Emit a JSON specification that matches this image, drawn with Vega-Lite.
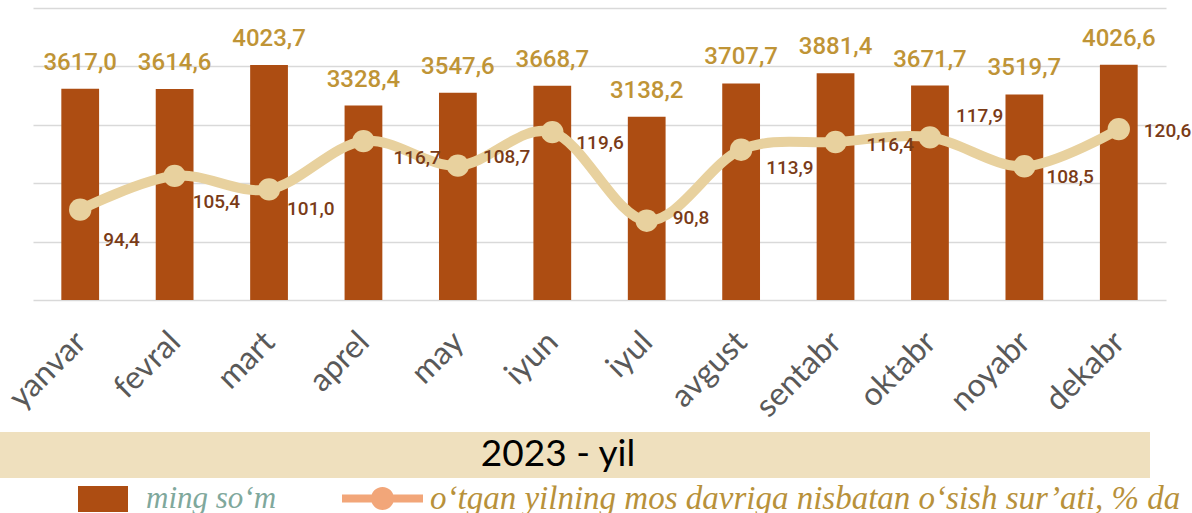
{
  "$schema": "https://vega.github.io/schema/vega-lite/v6.json",
  "padding": {"left": 0, "top": 8, "right": 0, "bottom": 0},
  "background": "white",
  "config": {
    "view": {"stroke": null},
    "locale": {"number": {"decimal": ",", "thousands": " ", "grouping": [3], "currency": ["", ""]}}
  },
  "datasets": {
    "monthly": [
      {"month": "yanvar", "value": 3617.0, "rate": 94.4},
      {"month": "fevral", "value": 3614.6, "rate": 105.4},
      {"month": "mart", "value": 4023.7, "rate": 101.0},
      {"month": "aprel", "value": 3328.4, "rate": 116.7},
      {"month": "may", "value": 3547.6, "rate": 108.7},
      {"month": "iyun", "value": 3668.7, "rate": 119.6},
      {"month": "iyul", "value": 3138.2, "rate": 90.8},
      {"month": "avgust", "value": 3707.7, "rate": 113.9},
      {"month": "sentabr", "value": 3881.4, "rate": 116.4},
      {"month": "oktabr", "value": 3671.7, "rate": 117.9},
      {"month": "noyabr", "value": 3519.7, "rate": 108.5},
      {"month": "dekabr", "value": 4026.6, "rate": 120.6}
    ]
  },
  "spacing": 132,
  "bounds": "flush",
  "vconcat": [
    {
      "width": 1166,
      "height": 292,
      "data": {"name": "monthly"},
      "encoding": {
        "x": {
          "field": "month", "type": "nominal", "sort": null,
          "scale": {"range": [33, 1166], "paddingInner": 0.6, "paddingOuter": 0.3},
          "axis": {"title": null, "labelAngle": -45, "labelFont": "Lato", "labelFontSize": 32, "labelColor": "#595959", "labelPadding": 26, "labelOffset": -10, "ticks": false, "domain": false, "grid": false}
        }
      },
      "layer": [
        {
          "layer": [
            {
              "mark": {"type": "bar", "color": "#AD4D12"},
              "encoding": {
                "y": {
                  "field": "value", "type": "quantitative", "scale": {"domain": [0, 5000], "nice": false},
                  "axis": {"title": null, "labels": false, "ticks": false, "domain": false, "grid": true, "gridColor": "#D9D9D9", "gridWidth": 1.5, "values": [0, 1000, 2000, 3000, 4000, 5000], "minExtent": 0}
                },
                "fill": {
                  "datum": "ming so‘m", "type": "nominal", "scale": {"range": ["#AD4D12"]},
                  "legend": {"orient": "none", "legendX": 78, "legendY": 466, "title": null, "padding": 0, "symbolType": "M-1,-0.52L1,-0.52L1,0.52L-1,0.52Z", "symbolSize": 2500, "symbolStrokeWidth": 0, "symbolOpacity": 1, "labelFont": "Liberation Serif", "labelFontStyle": "italic", "labelFontSize": 31, "labelColor": "#7FA89C", "labelOffset": 18, "labelLimit": 0}
                }
              }
            },
            {
              "mark": {"type": "text", "baseline": "alphabetic", "dy": -19, "font": "Roboto", "fontWeight": 500, "fontSize": 24, "color": "#BF9436"},
              "encoding": {
                "y": {"field": "value", "type": "quantitative"},
                "text": {"field": "value", "type": "quantitative", "format": ".1f"}
              }
            }
          ]
        },
        {
          "layer": [
            {
              "mark": {"type": "line", "interpolate": "cardinal", "strokeWidth": 10, "color": "#E8D19E"},
              "encoding": {
                "y": {"field": "rate", "type": "quantitative", "scale": {"domain": [65, 160], "nice": false, "zero": false}, "axis": null},
                "stroke": {
                  "datum": "o‘tgan yilning mos davriga nisbatan o‘sish sur’ati, % da", "type": "nominal", "scale": {"range": ["#E8D19E"]},
                  "legend": {
                    "orient": "none", "legendX": 342, "legendY": 450, "title": null, "padding": 0,
                    "symbolType": "M-1,-0.1L1,-0.1L1,0.1L-1,0.1Z M0.284,0 A0.284,0.284 0 1,1 -0.284,0 A0.284,0.284 0 1,1 0.284,0 Z",
                    "symbolSize": 6561, "symbolStrokeWidth": 0, "symbolOpacity": 1, "symbolFillColor": "#F2A679",
                    "labelFont": "Liberation Serif", "labelFontStyle": "italic", "labelFontSize": 33, "labelColor": "#B8913A", "labelOffset": 7, "labelLimit": 0,
                    "encode": {"symbols": {"update": {"fill": {"value": "#F2A679"}, "stroke": {"value": "#F2A679"}, "strokeWidth": {"value": 0}}}}
                  }
                }
              }
            },
            {
              "mark": {"type": "circle", "size": 500, "color": "#E8D19E", "opacity": 1},
              "encoding": {"y": {"field": "rate", "type": "quantitative"}}
            },
            {
              "mark": {
                "type": "text", "align": "left", "baseline": "middle",
                "dx": {"expr": "[23,18,18,30,25,24,26,25,31,26,22,25][indexof(['yanvar','fevral','mart','aprel','may','iyun','iyul','avgust','sentabr','oktabr','noyabr','dekabr'], datum.month)]"},
                "dy": {"expr": "[30,26,20,17,-9,11,-3,18,3,-21,11,2][indexof(['yanvar','fevral','mart','aprel','may','iyun','iyul','avgust','sentabr','oktabr','noyabr','dekabr'], datum.month)]"},
                "font": "Roboto", "fontWeight": 500, "fontSize": 19, "color": "#7A3B17"
              },
              "encoding": {
                "y": {"field": "rate", "type": "quantitative"},
                "text": {"field": "rate", "type": "quantitative", "format": ".1f"}
              }
            }
          ]
        }
      ],
      "resolve": {"scale": {"y": "independent"}}
    },
    {
      "width": 1150,
      "height": 46,
      "view": {"fill": "#EFE0BE", "stroke": null},
      "data": {"values": [{"caption": "2023 - yil"}]},
      "mark": {"type": "text", "font": "Lato", "fontSize": 37, "color": "#000000", "dx": -17, "baseline": "middle"},
      "encoding": {"text": {"field": "caption", "type": "nominal"}}
    }
  ]
}
